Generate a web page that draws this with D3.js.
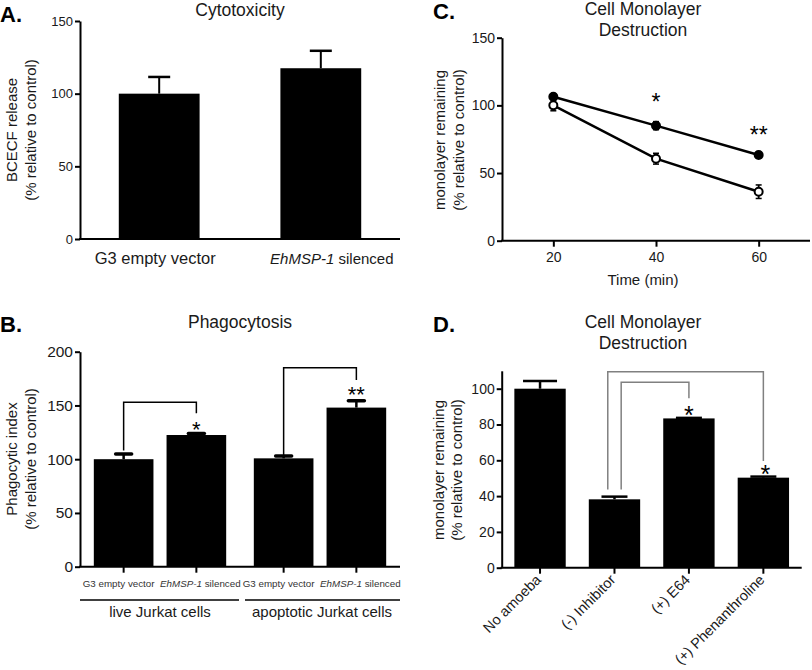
<!DOCTYPE html>
<html><head><meta charset="utf-8">
<script src="https://cdn.jsdelivr.net/npm/d3@7"></script>
<style>
body{margin:0;background:#fff;}
svg{font-family:"Liberation Sans",Arial,Helvetica;}
</style></head>
<body>
<svg id="chart" width="812" height="670"></svg>
<script>
// ---------- DATA ----------
// Panel A: Cytotoxicity
const aCategories = ["G3 empty vector", "EhMSP-1 silenced"];
const aValues = [100, 117.5];
const aErrors = [11.5, 12];
const aTicks = [0, 50, 100, 150];

// Panel B: Phagocytosis
const bGroups = ["live Jurkat cells", "apoptotic Jurkat cells"];
const bCategories = ["G3 empty vector", "EhMSP-1 silenced"];
const bValuesLive = [100, 122.5];
const bErrorsLive = [4.8, 1.5];
const bValuesApop = [100.8, 148];
const bErrorsApop = [2.2, 6.4];
const bTicks = [0, 50, 100, 150, 200];
const bBrackets = [
  {group: 0, ends: [108, 153, 142.7], label: "*", labelY: 133},
  {group: 1, ends: [102.3, 185, 173.7], label: "**", labelY: 166}
];

// Panel C: Cell monolayer destruction over time
const cTimes = [20, 40, 60];
const cFilled = [106.4, 85, 63.3];
const cFilledErr = [2, 3, 2];
const cOpen = [100, 60.6, 36.2];
const cOpenErr = [4, 4, 5];
const cXTicks = [20, 40, 60];
const cYTicks = [0, 50, 100, 150];
const cStars = [{t: 40, v: 107, label: "*"}, {t: 60, v: 83, label: "**"}];

// Panel D: Cell monolayer destruction with inhibitors
const dCategories = ["No amoeba", "(-) Inhibitor", "(+) E64", "(+) Phenanthroline"];
const dValues = [100, 38.2, 83.4, 50.3];
const dErrors = [4.3, 1.5, 0.3, 0.6];
const dTicks = [0, 20, 40, 60, 80, 100];
const dBrackets = [
  {from: 1, to: 3, side: -1, ends: [43.7, 109.5, 59.6]},
  {from: 1, to: 2, side: 1, ends: [43.7, 103.6, 94.6]}
];
const dStars = [{cat: 2, v: 89, label: "*"}, {cat: 3, v: 56, label: "*"}];

// ---------- DRAWING ----------
const svg = d3.select("#chart");
const TXT = "#1a1a1a";

function styleAxis(g, fs) {
  g.select(".domain").attr("stroke", "#000").attr("stroke-width", 2);
  g.selectAll(".tick line").attr("stroke", "#000").attr("stroke-width", 2);
  g.selectAll(".tick text").attr("fill", TXT).style("font-size", fs + "px");
}
function panelLetter(x, y, t) {
  svg.append("text").attr("x", x).attr("y", y).text(t)
    .style("font-size", "22px").style("font-weight", "bold").attr("fill", "#000");
}
function title(x, ys, lines) {
  lines.forEach((l, i) => svg.append("text").attr("x", x).attr("y", ys[i])
    .attr("text-anchor", "middle").style("font-size", "17.5px").attr("fill", TXT).text(l));
}
function yLabel(x1, x2, yc, l1, l2) {
  svg.append("text").attr("transform", `translate(${x1},${yc}) rotate(-90)`)
    .attr("text-anchor", "middle").style("font-size", "15px").attr("fill", TXT).text(l1);
  svg.append("text").attr("transform", `translate(${x2},${yc}) rotate(-90)`)
    .attr("text-anchor", "middle").style("font-size", "15px").attr("fill", TXT).text(l2);
}
function star(x, yc, label, fs) {
  svg.append("text").attr("x", x).attr("y", yc + fs * 0.62)
    .attr("text-anchor", "middle").style("font-size", fs + "px").attr("fill", "#000").text(label);
}
function italicLabel(sel, text) {
  const m = text.match(/^(EhMSP-1)(.*)$/);
  if (m) {
    sel.text(null);
    sel.append("tspan").style("font-style", "italic").text(m[1]);
    sel.append("tspan").text(m[2]);
  } else sel.text(text);
}

// ===== Panel A =====
{
  const x = d3.scaleBand().domain(aCategories).range([80, 400]).paddingInner(0.5).paddingOuter(0.24);
  const y = d3.scaleLinear().domain([0, 150]).range([239, 21]);
  const g = svg.append("g");
  g.selectAll("line.err").data(aCategories).enter().append("line")
    .attr("x1", d => x(d) + x.bandwidth() / 2).attr("x2", d => x(d) + x.bandwidth() / 2)
    .attr("y1", (d, i) => y(aValues[i])).attr("y2", (d, i) => y(aValues[i] + aErrors[i]))
    .attr("stroke", "#000").attr("stroke-width", 2);
  g.selectAll("line.cap").data(aCategories).enter().append("line")
    .attr("x1", d => x(d) + x.bandwidth() / 2 - 11).attr("x2", d => x(d) + x.bandwidth() / 2 + 11)
    .attr("y1", (d, i) => y(aValues[i] + aErrors[i])).attr("y2", (d, i) => y(aValues[i] + aErrors[i]))
    .attr("stroke", "#000").attr("stroke-width", 2.5);
  g.selectAll("rect").data(aCategories).enter().append("rect")
    .attr("x", d => x(d)).attr("width", x.bandwidth())
    .attr("y", (d, i) => y(aValues[i])).attr("height", (d, i) => y(0) - y(aValues[i]))
    .attr("fill", "#000");
  const ya = svg.append("g").attr("transform", "translate(80,0)")
    .call(d3.axisLeft(y).tickValues(aTicks).tickSize(5).tickSizeOuter(0).tickPadding(2));
  styleAxis(ya, 13);
  svg.append("line").attr("x1", 79).attr("x2", 400).attr("y1", 239).attr("y2", 239)
    .attr("stroke", "#000").attr("stroke-width", 2);
  const aLabelSize = [16.5, 15];
  const aLabelShift = [-4, 11];
  aCategories.forEach((c, i) => {
    const t = svg.append("text").attr("x", x(c) + x.bandwidth() / 2 + aLabelShift[i]).attr("y", 264)
      .attr("text-anchor", "middle").style("font-size", aLabelSize[i] + "px").attr("fill", TXT);
    italicLabel(t, c);
  });
  panelLetter(0, 22, "A.");
  title(240, [16], ["Cytotoxicity"]);
  yLabel(17, 36, 130, "BCECF release", "(% relative to control)");
}

// ===== Panel B =====
{
  const xo = d3.scaleBand().domain(bGroups).range([80, 400]).paddingInner(0).paddingOuter(0);
  const xi = d3.scaleBand().domain(bCategories).range([0, xo.bandwidth()]).paddingInner(0.18).paddingOuter(0.19);
  const y = d3.scaleLinear().domain([0, 200]).range([566.7, 351.7]);
  const vals = [bValuesLive, bValuesApop], errs = [bErrorsLive, bErrorsApop];
  const cx = (gi, ci) => xo(bGroups[gi]) + xi(bCategories[ci]) + xi.bandwidth() / 2;
  const labelShift = [-5, 4];
  bGroups.forEach((gname, gi) => {
    bCategories.forEach((c, ci) => {
      const v = vals[gi][ci], e = errs[gi][ci], X = cx(gi, ci);
      svg.append("line").attr("x1", X).attr("x2", X).attr("y1", y(v)).attr("y2", y(v + e))
        .attr("stroke", "#000").attr("stroke-width", 2.5);
      svg.append("line").attr("x1", X - 8).attr("x2", X + 8).attr("y1", y(v + e)).attr("y2", y(v + e))
        .attr("stroke", "#000").attr("stroke-width", 3.5).attr("stroke-linecap", "round");
      svg.append("rect").attr("x", xo(gname) + xi(c)).attr("width", xi.bandwidth())
        .attr("y", y(v)).attr("height", y(0) - y(v)).attr("fill", "#000");
      svg.append("line").attr("x1", X).attr("x2", X).attr("y1", y(0)).attr("y2", y(0) + 6)
        .attr("stroke", "#000").attr("stroke-width", 2);
      const t = svg.append("text").attr("x", X + labelShift[ci]).attr("y", 587)
        .attr("text-anchor", "middle").style("font-size", "9.8px").attr("fill", "#333");
      italicLabel(t, c);
    });
    const gx0 = xo(gname), gx1 = xo(gname) + xo.bandwidth();
    svg.append("line").attr("x1", gi === 0 ? gx0 : gx0 + 5).attr("x2", gi === 0 ? gx1 - 1 : gx1)
      .attr("y1", 600).attr("y2", 600).attr("stroke", "#000").attr("stroke-width", 1.5);
    svg.append("text").attr("x", (gx0 + gx1) / 2 + (gi === 0 ? 0 : 2)).attr("y", 617)
      .attr("text-anchor", "middle").style("font-size", "15px").attr("fill", TXT).text(gname);
  });
  bBrackets.forEach(b => {
    const x1 = cx(b.group, 0), x2 = cx(b.group, 1);
    const path = d3.path();
    path.moveTo(x1, y(b.ends[0])); path.lineTo(x1, y(b.ends[1]));
    path.lineTo(x2, y(b.ends[1])); path.lineTo(x2, y(b.ends[2]));
    svg.append("path").attr("d", path.toString()).attr("fill", "none")
      .attr("stroke", "#000").attr("stroke-width", 1.5);
    star(x2, y(b.labelY), b.label, 22);
  });
  const ya = svg.append("g").attr("transform", "translate(80,0)")
    .call(d3.axisLeft(y).tickValues(bTicks).tickSize(5).tickSizeOuter(0).tickPadding(2));
  styleAxis(ya, 15.5);
  svg.append("line").attr("x1", 79).attr("x2", 400).attr("y1", y(0)).attr("y2", y(0))
    .attr("stroke", "#000").attr("stroke-width", 2);
  panelLetter(0, 332, "B.");
  title(240, [328], ["Phagocytosis"]);
  yLabel(17, 36, 459, "Phagocytic index", "(% relative to control)");
}

// ===== Panel C =====
{
  const x = d3.scaleLinear().domain([10, 70]).range([502, 810]);
  const y = d3.scaleLinear().domain([0, 150]).range([240.7, 37.7]);
  const line = d3.line().x((d, i) => x(cTimes[i])).y(d => y(d));
  const series = [
    {vals: cOpen, errs: cOpenErr, fill: "#fff"},
    {vals: cFilled, errs: cFilledErr, fill: "#000"}
  ];
  series.forEach(s => {
    svg.append("path").datum(s.vals).attr("d", line).attr("fill", "none")
      .attr("stroke", "#000").attr("stroke-width", 2.5);
    s.vals.forEach((v, i) => {
      const X = x(cTimes[i]);
      svg.append("line").attr("x1", X).attr("x2", X).attr("y1", y(v - s.errs[i])).attr("y2", y(v + s.errs[i]))
        .attr("stroke", "#000").attr("stroke-width", 1.8);
      [v - s.errs[i], v + s.errs[i]].forEach(e => svg.append("line")
        .attr("x1", X - 3).attr("x2", X + 3).attr("y1", y(e)).attr("y2", y(e))
        .attr("stroke", "#000").attr("stroke-width", 1.5));
      svg.append("circle").attr("cx", X).attr("cy", y(v)).attr("r", 4)
        .attr("fill", s.fill).attr("stroke", "#000").attr("stroke-width", 2);
    });
  });
  cStars.forEach(s => star(x(s.t), y(s.v), s.label, 23));
  const ya = svg.append("g").attr("transform", "translate(502,0)")
    .call(d3.axisLeft(y).tickValues(cYTicks).tickSize(5).tickSizeOuter(0).tickPadding(2));
  styleAxis(ya, 14);
  const xa = svg.append("g").attr("transform", `translate(0,${y(0)})`)
    .call(d3.axisBottom(x).tickValues(cXTicks).tickSize(6).tickSizeOuter(0).tickPadding(5));
  styleAxis(xa, 14);
  xa.select(".domain").attr("d", `M501,0H810`);
  panelLetter(433, 19, "C.");
  title(643, [15, 36], ["Cell Monolayer", "Destruction"]);
  yLabel(445, 464, 140, "monolayer remaining", "(% relative to control)");
  svg.append("text").attr("x", 643).attr("y", 285).attr("text-anchor", "middle")
    .style("font-size", "15px").attr("fill", TXT).text("Time (min)");
}

// ===== Panel D =====
{
  const x = d3.scaleBand().domain(dCategories).range([501.7, 801.7]).paddingInner(0.31).paddingOuter(0.17);
  const y = d3.scaleLinear().domain([0, 110]).range([567.7, 370.8]);
  const cx = c => x(c) + x.bandwidth() / 2;
  dCategories.forEach((c, i) => {
    const v = dValues[i], e = dErrors[i], X = cx(c);
    const capW = i === 0 ? 17 : 13;
    svg.append("line").attr("x1", X).attr("x2", X).attr("y1", y(v)).attr("y2", y(v + e))
      .attr("stroke", "#000").attr("stroke-width", 2.5);
    svg.append("line").attr("x1", X - capW).attr("x2", X + capW).attr("y1", y(v + e)).attr("y2", y(v + e))
      .attr("stroke", "#000").attr("stroke-width", 2.5);
    svg.append("rect").attr("x", x(c)).attr("width", x.bandwidth())
      .attr("y", y(v)).attr("height", y(0) - y(v)).attr("fill", "#000");
  });
  dBrackets.forEach(b => {
    const x1 = cx(dCategories[b.from]) + b.side * 6.7, x2 = cx(dCategories[b.to]);
    const p = d3.path();
    p.moveTo(x1, y(b.ends[0])); p.lineTo(x1, y(b.ends[1]));
    p.lineTo(x2, y(b.ends[1])); p.lineTo(x2, y(b.ends[2]));
    svg.append("path").attr("d", p.toString()).attr("fill", "none")
      .attr("stroke", "#808080").attr("stroke-width", 1.5);
  });
  dStars.forEach(s => star(cx(dCategories[s.cat]) + (s.cat === 3 ? 2 : 0), y(s.v), s.label, 25));
  const ya = svg.append("g").attr("transform", "translate(501.7,0)")
    .call(d3.axisLeft(y).tickValues(dTicks).tickSize(5).tickSizeOuter(0).tickPadding(2));
  styleAxis(ya, 14);
  const xa = svg.append("g").attr("transform", `translate(0,${y(0)})`)
    .call(d3.axisBottom(x).tickSize(6).tickSizeOuter(0).tickPadding(4));
  styleAxis(xa, 14.5);
  xa.select(".domain").attr("d", `M500.7,0H801.7`);
  xa.selectAll(".tick text").attr("text-anchor", "end")
    .attr("x", 0).attr("y", 0).attr("dy", 0)
    .attr("transform", "translate(2,13) rotate(-45)");
  panelLetter(433, 332, "D.");
  title(643, [328, 349], ["Cell Monolayer", "Destruction"]);
  yLabel(444, 462, 470, "monolayer remaining", "(% relative to control)");
}
</script>
</body></html>
